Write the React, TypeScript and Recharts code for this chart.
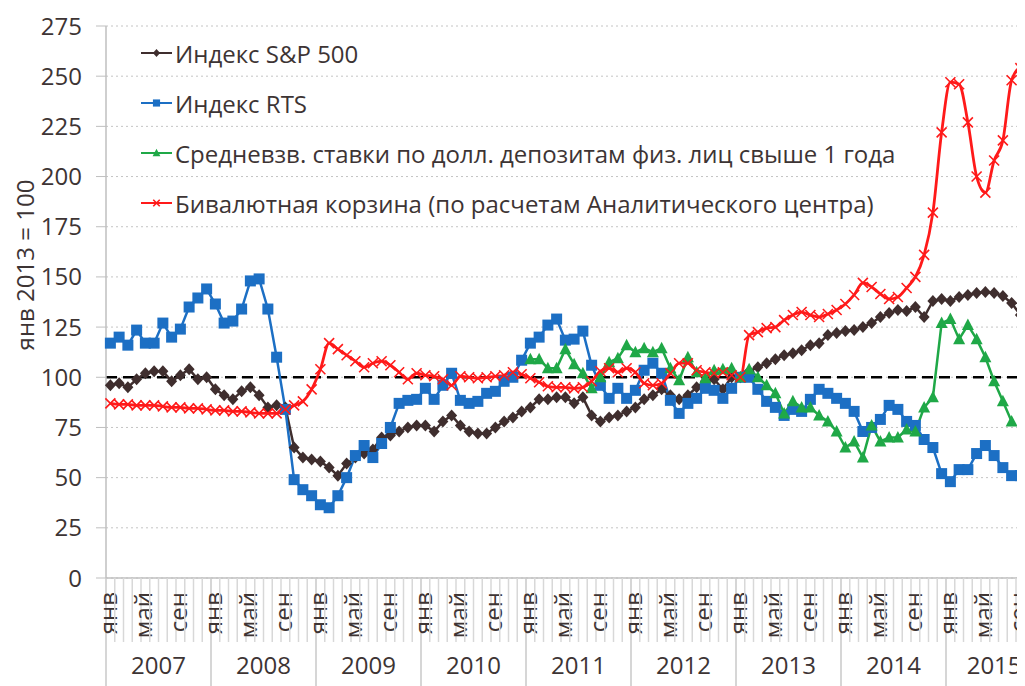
import React from "react";
import {
  LineChart,
  Line,
  XAxis,
  YAxis,
  CartesianGrid,
  ReferenceLine,
  Legend,
} from "recharts";

const years = [2007, 2008, 2009, 2010, 2011, 2012, 2013, 2014, 2015];
const monthNames = ["янв", "фев", "мар", "апр", "май", "июн", "июл", "авг", "сен", "окт", "ноя", "дек"];
const labeledMonths = ["янв", "май", "сен"];
const lastMonthOf2015 = 11; // шкала до ноября 2015
const yTicks = [0, 25, 50, 75, 100, 125, 150, 175, 200, 225, 250, 275];

// янв 2007 .. окт 2015, янв 2013 = 100
const sp500 = [
  96, 97, 95, 99, 102, 103, 103, 98, 101, 104, 99, 100,
  94, 91, 89, 93, 95, 91, 85, 86, 85, 65, 60, 59,
  58, 55, 51, 57, 60, 62, 64, 70, 71, 73, 75, 76,
  76, 73, 78, 81, 76, 73, 72, 72, 75, 78, 80, 83,
  85, 89, 89, 90, 90, 87, 90, 81, 78, 80, 81, 83,
  85, 89, 91, 94, 91, 89, 91, 95, 98, 99, 94, 100,
  100, 103, 105, 107, 109, 111, 112, 113.5, 116, 117, 121, 122,
  123, 123.5, 125, 127, 130, 132, 133.5, 133, 135, 130, 138, 139,
  138, 140, 141, 142, 142.5, 142, 140.5, 137, 131, 136,
];

const rts = [
  117, 120, 116, 123.5, 117, 117, 127, 120, 124, 135, 139.5, 144,
  136.5, 127, 128, 134, 148, 149, 134, 110, 84, 49, 44, 41,
  36.5, 35, 41, 50, 61, 66, 60, 67, 75, 87, 88.5, 89,
  94.5, 89, 96, 102, 88.5, 87, 88, 92, 93, 98, 100, 108.5,
  117, 120, 126, 129, 118.5, 119, 123, 106, 96, 89.5, 94.5, 89.5,
  93.5, 103.5, 107, 102, 88.5, 82, 87, 89.5, 94.5, 93.5, 89.5, 94.5,
  100, 100, 94, 88, 85, 81, 84, 83, 89, 94, 92, 89.5,
  87, 83, 73, 75, 79, 86, 84, 78, 76, 69, 65, 52,
  48, 54, 54, 62, 66, 61, 55, 51, 51, 53,
];

const basket = [
  87, 86.5, 86.5, 86, 86, 86, 85.5, 85, 85, 84.5, 84.5, 84,
  83.5, 83.5, 83, 83, 82.5, 82, 82, 82, 84, 86, 88, 94,
  104, 117, 114, 111, 108, 105, 107, 108, 106, 102.5, 99, 102,
  101, 100.5, 99, 96, 100.5, 100, 99.5, 100, 100.5, 101, 102.5, 101.5,
  99.5, 97.5, 95.5, 95, 95, 94.5, 95, 98, 103, 104.5, 102.5, 104.5,
  102.5, 97, 96, 97, 102, 107, 107, 103.5, 102.5, 102, 102.5, 101,
  100, 121, 122.5, 124.5, 125, 128.5, 131, 132.5, 131, 130, 131.5, 133.5,
  136.5, 141, 147, 145, 141.5, 139, 140, 144.5, 150, 161, 182, 222,
  247, 246, 227, 200, 192, 208, 218, 248, 254, 228,
];

// янв 2011 .. авг 2015
const depositsStart = 48;
const deposits = [
  109, 109, 104.5, 104.5, 114, 106.5, 102, 94.5, 100, 107.5, 109.5, 116,
  112.5, 114.5, 112.5, 114.5, 104.5, 98.5, 110, 102.5, 99.5, 103.5, 104, 104.5,
  100, 104, 100, 96, 92, 82, 88, 85, 85, 81, 78, 73,
  65, 68, 60, 76, 68, 70, 70, 74, 73, 85, 90, 127,
  129, 119, 126, 119, 110, 98, 88, 78,
];

const TEXT = "#3d3434";
const AXIS = "#bfbfbf";
const C_SP = "#3f2e2e";
const C_RTS = "#1c6fc4";
const C_DEP = "#1fa847";
const C_BAS = "#ff1a1a";
const FONT = 24;

const monthKeys = years.flatMap((yr, yi) =>
  monthNames
    .filter((_, mi) => yi < years.length - 1 || mi < lastMonthOf2015)
    .map((mn) => `${mn} ${yr}`)
);

const MONTH_W = 8.75;
const Y_AXIS_W = 98;
const MARGIN = { top: 18, right: 10, bottom: 0, left: 0 };
const CHART_W = Y_AXIS_W + MONTH_W * monthKeys.length + MARGIN.right;
const CHART_H = 680;
const HALF_BAND = MONTH_W / 2;

const data = monthKeys.map((key, i) => {
  const d = i - depositsStart;
  return {
    key,
    sp500: sp500[i] ?? null,
    rts: rts[i] ?? null,
    deposits: d >= 0 && d < deposits.length ? deposits[d] : null,
    basket: basket[i] ?? null,
  };
});

const keyIndex: Record<string, number> = {};
monthKeys.forEach((k, i) => (keyIndex[k] = i));

type Marker = "diamond" | "square" | "triangle" | "cross";

function markerShape(kind: Marker, cx: number, cy: number, color: string, s = 1) {
  if (kind === "diamond") {
    return <path d={`M${cx},${cy - 6 * s}L${cx + 5.5 * s},${cy}L${cx},${cy + 6 * s}L${cx - 5.5 * s},${cy}Z`} fill={color} />;
  }
  if (kind === "square") {
    const h = 5.5 * s;
    return <rect x={cx - h} y={cy - h} width={h * 2} height={h * 2} fill={color} />;
  }
  if (kind === "triangle") {
    return <path d={`M${cx},${cy - 6.5 * s}L${cx + 6 * s},${cy + 5 * s}L${cx - 6 * s},${cy + 5 * s}Z`} fill={color} />;
  }
  const h = 5 * s;
  return (
    <path
      d={`M${cx - h},${cy - h}L${cx + h},${cy + h}M${cx - h},${cy + h}L${cx + h},${cy - h}`}
      stroke={color}
      strokeWidth={1.6}
      fill="none"
    />
  );
}

const makeDot = (kind: Marker, color: string) => (p: any) => {
  const k = `${kind}-${p.index}`;
  if (p.cx == null || p.cy == null || p.value == null) return <g key={k} />;
  return <g key={k}>{markerShape(kind, p.cx, p.cy, color)}</g>;
};

const seriesDefs: { key: string; name: string; color: string; marker: Marker }[] = [
  { key: "sp500", name: "Индекс S&P 500", color: C_SP, marker: "diamond" },
  { key: "rts", name: "Индекс RTS", color: C_RTS, marker: "square" },
  { key: "deposits", name: "Средневзв. ставки по долл. депозитам физ. лиц свыше 1 года", color: C_DEP, marker: "triangle" },
  { key: "basket", name: "Бивалютная корзина (по расчетам Аналитического центра)", color: C_BAS, marker: "cross" },
];

const renderLegend = () => (
  <div style={{ display: "flex", flexDirection: "column" }}>
    {seriesDefs.map((s) => (
      <div key={s.key} style={{ height: 50, display: "flex", alignItems: "center", whiteSpace: "nowrap" }}>
        <svg width={32} height={14} style={{ marginRight: 2 }}>
          <line x1={0} x2={31} y1={7} y2={7} stroke={s.color} strokeWidth={2} />
          {markerShape(s.marker, 15.5, 7, s.color, 0.65)}
        </svg>
        <span style={{ fontSize: FONT, color: TEXT }}>{s.name}</span>
      </div>
    ))}
  </div>
);

function MonthTick(props: any) {
  const { x, y, payload } = props;
  const idx = keyIndex[payload.value] ?? 0;
  const m = idx % 12;
  const label = monthNames[m];
  const left = x - HALF_BAND;
  const tx = x + 6.5;
  const ty = y + 14;
  const yearIdx = Math.floor(idx / 12);
  const monthsInYear = yearIdx === years.length - 1 ? lastMonthOf2015 : 12;
  return (
    <g>
      <line
        x1={left}
        x2={left}
        y1={y}
        y2={y + (m === 0 ? 112 : 64)}
        stroke={m === 0 ? "#c8c8c8" : "#d8d8d8"}
        strokeWidth={1.5}
      />
      {labeledMonths.includes(label) && (
        <text x={tx} y={ty} transform={`rotate(-90 ${tx} ${ty})`} textAnchor="end" fontSize={FONT} fill={TEXT}>
          {label}
        </text>
      )}
      {m === 0 && (
        <text x={left + (monthsInYear * MONTH_W) / 2} y={y + 96} textAnchor="middle" fontSize={FONT} fill={TEXT}>
          {years[yearIdx]}
        </text>
      )}
    </g>
  );
}

const renderYLabel = () => (
  <text
    x={16}
    y={257}
    transform="rotate(-90 16 257)"
    textAnchor="middle"
    dominantBaseline="central"
    fontSize={FONT}
    fill={TEXT}
  >
    янв 2013 = 100
  </text>
);

export default function App() {
  return (
    <div style={{ width: 1017, height: CHART_H, overflow: "hidden", fontFamily: '"Open Sans", sans-serif' }}>
      <LineChart width={CHART_W} height={CHART_H} data={data} margin={MARGIN}>
        <CartesianGrid vertical={false} stroke="#c4c4c4" strokeDasharray="2 3" />
        <XAxis
          dataKey="key"
          interval={0}
          tickSize={0}
          tickMargin={0}
          tickLine={false}
          height={CHART_H - MARGIN.top - 552}
          padding={{ left: HALF_BAND, right: HALF_BAND }}
          axisLine={{ stroke: AXIS, strokeWidth: 1.5 }}
          tick={(p: any) => <MonthTick {...p} />}
        />
        <YAxis
          domain={[0, 275]}
          ticks={yTicks}
          interval={0}
          width={Y_AXIS_W}
          tickSize={10}
          tickMargin={14}
          axisLine={{ stroke: AXIS, strokeWidth: 1.5 }}
          tickLine={{ stroke: AXIS }}
          tick={{ fontSize: FONT, fill: TEXT }}
          label={renderYLabel}
        />
        <ReferenceLine y={100} stroke="#000" strokeWidth={2.5} strokeDasharray="11 6" />
        <Line dataKey="sp500" name="Индекс S&P 500" stroke={C_SP} strokeWidth={2.5} dot={makeDot("diamond", C_SP)} activeDot={false} isAnimationActive={false} />
        <Line dataKey="rts" name="Индекс RTS" stroke={C_RTS} strokeWidth={2.5} dot={makeDot("square", C_RTS)} activeDot={false} isAnimationActive={false} />
        <Line dataKey="deposits" name="Средневзв. ставки" stroke={C_DEP} strokeWidth={2.5} dot={makeDot("triangle", C_DEP)} activeDot={false} isAnimationActive={false} />
        <Line type="monotone" dataKey="basket" name="Бивалютная корзина" stroke={C_BAS} strokeWidth={2.8} dot={makeDot("cross", C_BAS)} activeDot={false} isAnimationActive={false} />
        <Legend
          layout="vertical"
          align="center"
          verticalAlign="middle"
          wrapperStyle={{ top: 20, left: 133, width: "auto" }}
          content={renderLegend}
        />
      </LineChart>
    </div>
  );
}
